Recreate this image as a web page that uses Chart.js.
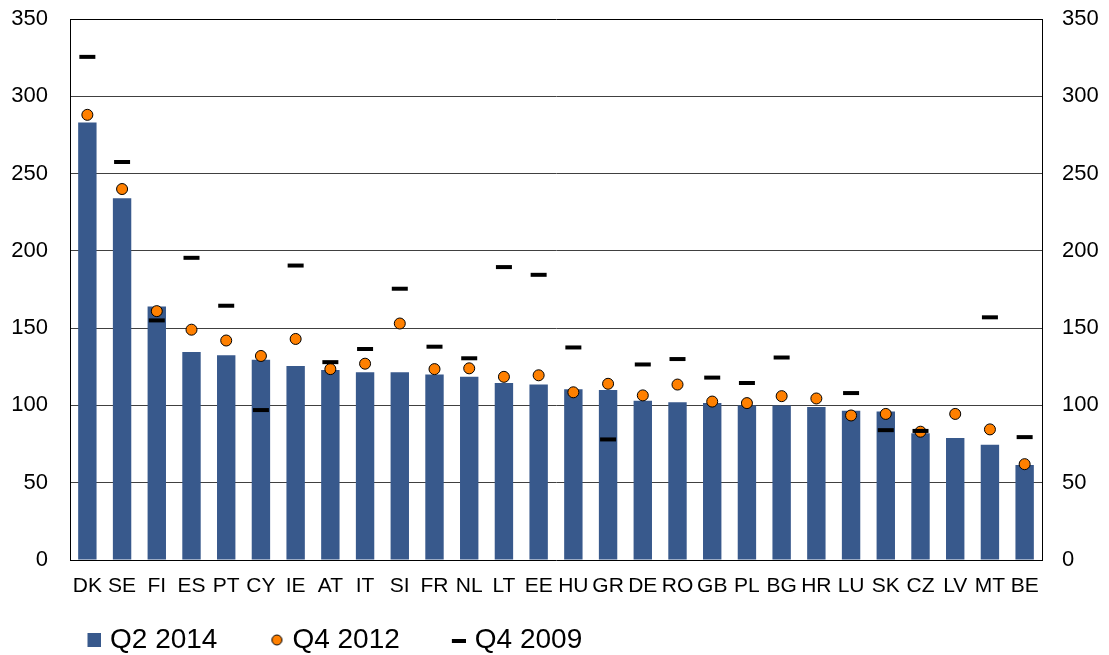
<!DOCTYPE html>
<html>
<head>
<meta charset="utf-8">
<script src="https://cdn.jsdelivr.net/npm/chart.js@4"></script>
<style>
  body { margin: 0; background: #fff; }
  #wrap { width: 1109px; height: 655px; }
</style>
</head>
<body>
<div id="wrap"><canvas id="myChart" width="1109" height="655"></canvas></div>
<script>
var countries = ['DK', 'SE', 'FI', 'ES', 'PT', 'CY', 'IE', 'AT', 'IT', 'SI', 'FR', 'NL', 'LT', 'EE',
    'HU', 'GR', 'DE', 'RO', 'GB', 'PL', 'BG', 'HR', 'LU', 'SK', 'CZ', 'LV', 'MT', 'BE'];
var q2_2014 = [283, 234, 164, 134.5, 132.5, 129.5, 125.5, 123, 121.5, 121.5, 120, 118.5, 114.5, 113.5,
    110.5, 110, 103, 102, 101.5, 100, 100, 99, 96.5, 96, 82, 79, 74.5, 61.5];
var q4_2012 = [288, 240, 161, 149, 142, 132, 143, 123.5, 127, 153, 123.5, 124, 118.5, 119.5,
    108.5, 114, 106.5, 113.5, 102.5, 101.5, 106, 104.5, 93.5, 94.5, 83, 94.5, 84.5, 62];
var q4_2009 = [325.5, 257.5, 155, 195.5, 164.5, 97, 190.5, 128, 136.5, 175.5, 138, 130.5, 189.5, 184.5,
    137.5, 78, 126.5, 130, 118, 114.5, 131, null, 108, 84, 83.5, null, 157, 79.5];
var yMin = 0, yMax = 350, yStep = 50;

var barColor = '#38598C';
var dotColor = '#FF8000';

// legend markers as small images so each one can have its own size
function marker(kind) {
    var c = document.createElement('canvas');
    c.width = 60;
    c.height = 24;
    var g = c.getContext('2d');
    if (kind == 'bar') {
        g.fillStyle = barColor;
        g.fillRect(46.5, 5, 14, 14);
    } else if (kind == 'dot') {
        g.beginPath();
        g.arc(53.5, 12, 5, 0, Math.PI * 2);
        g.fillStyle = dotColor;
        g.fill();
        g.lineWidth = 1;
        g.strokeStyle = '#000';
        g.stroke();
    } else {
        g.fillStyle = '#000';
        g.fillRect(46, 11, 15, 4);
    }
    return c;
}
var legendMarks = [marker('bar'), marker('dot'), marker('dash')];

var fontFamily = 'Arial, "Liberation Sans", sans-serif';

// move the legend row right, so the first item lines up under the plot
var legendShift = {
    id: 'legendShift',
    afterLayout: function (chart) {
        chart.legend.left = 35;
    }
};

function noPad(scale) {
    scale.paddingTop = 0;
    scale.paddingBottom = 0;
    scale.paddingLeft = 0;
    scale.paddingRight = 0;
}

var ctx = document.getElementById('myChart').getContext('2d');
var myChart = new Chart(ctx, {
    data: {
        labels: countries,
        datasets: [{
            type: 'bar',
            label: 'Q2 2014',
            data: q2_2014,
            backgroundColor: barColor,
            borderWidth: 0,
            barPercentage: 0.53,
            categoryPercentage: 1,
            order: 3,
            yAxisID: 'y'
        }, {
            type: 'line',
            label: 'Q4 2012',
            data: q4_2012,
            showLine: false,
            pointRadius: 5.5,
            pointBackgroundColor: dotColor,
            pointBorderColor: '#000',
            pointBorderWidth: 1,
            order: 2,
            yAxisID: 'y'
        }, {
            type: 'line',
            label: 'Q4 2009',
            data: q4_2009,
            showLine: false,
            pointStyle: 'line',
            pointRadius: 8,
            pointBorderColor: '#000',
            pointBorderWidth: 4,
            order: 1,
            yAxisID: 'y'
        }]
    },
    plugins: [legendShift],
    options: {
        responsive: false,
        animation: false,
        events: [],
        layout: {
            padding: { left: 0, right: 0, top: 19, bottom: 0 }
        },
        plugins: {
            tooltip: { enabled: false },
            legend: {
                position: 'bottom',
                align: 'start',
                maxHeight: 40,
                labels: {
                    usePointStyle: true,
                    pointStyleWidth: 50,
                    padding: 11,
                    color: '#000',
                    font: { family: fontFamily, size: 28 },
                    generateLabels: function (chart) {
                        return chart.data.datasets.map(function (ds, i) {
                            return {
                                text: ds.label,
                                pointStyle: legendMarks[i],
                                datasetIndex: i,
                                hidden: false,
                                lineWidth: 0
                            };
                        });
                    }
                }
            }
        },
        scales: {
            x: {
                grid: { display: false, drawTicks: false },
                border: { color: '#000', width: 1 },
                ticks: {
                    color: '#000',
                    padding: 14,
                    maxRotation: 0,
                    autoSkip: false,
                    font: { family: fontFamily, size: 21 }
                },
                afterFit: function (scale) {
                    scale.height = 55;
                    noPad(scale);
                }
            },
            y: {
                position: 'left',
                min: yMin,
                max: yMax,
                ticks: {
                    stepSize: yStep,
                    color: '#000',
                    padding: 22,
                    font: { family: fontFamily, size: 22 }
                },
                grid: {
                    drawTicks: false,
                    color: function (c) {
                        if (c.tick && c.tick.value == yMax) return '#000';
                        if (c.tick && c.tick.value == yMin) return 'rgba(0,0,0,0)';
                        return '#404040';
                    },
                    lineWidth: 1
                },
                border: { color: '#000', width: 1 },
                afterFit: function (scale) {
                    scale.width = 70;
                    noPad(scale);
                }
            },
            y2: {
                position: 'right',
                min: yMin,
                max: yMax,
                ticks: {
                    stepSize: yStep,
                    color: '#000',
                    padding: 20,
                    font: { family: fontFamily, size: 22 }
                },
                grid: { display: false, drawTicks: false },
                border: { color: '#000', width: 1 },
                afterFit: function (scale) {
                    scale.width = 67;
                    noPad(scale);
                }
            }
        }
    }
});
</script>
</body>
</html>
